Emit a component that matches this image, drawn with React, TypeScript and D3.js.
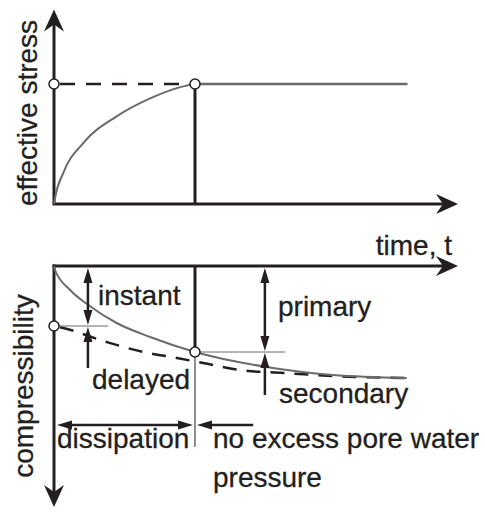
import * as d3 from "d3"

// effective stress rising during dissipation (time, stress)
const stressTime = [0, 0.025, 0.23, 0.73, 1.55, 2.38, 3.2, 3.49]
const stressValue = [0, 0.05, 0.26, 0.51, 0.73, 0.88, 0.98, 1.0]
const stressFinal = 1.0
const endOfDissipation = 3.49
const plotEnd = 8.75

// total compression (solid) and delayed part (dashed)
const totalTime = [0, 0.025, 0.4, 0.85, 1.55, 2.38, 3.49, 5.26, 6.91, 8.73]
const totalComp = [0, 0.04, 0.24, 0.39, 0.57, 0.71, 0.86, 1.01, 1.09, 1.12]
const delayedTime = [0, 0.23, 1.3, 2.21, 3.04, 3.69, 4.6, 5.68, 6.91, 8.73]
const delayedComp = [0.6, 0.62, 0.76, 0.86, 0.92, 0.97, 1.04, 1.07, 1.1, 1.12]
const instantComp = 0.6
const primaryComp = 0.86

const axisLabels = ["effective stress", "compressibility", "time, t"]
const annotations = ["instant", "delayed", "primary", "secondary", "dissipation"]
const noExcess = ["no excess pore water", "pressure"]

const W = 485
const H = 514
const INK = "#231f20"
const GREY = "#6b6b6b"
const FONT = "'Liberation Sans', Arial, sans-serif"

type Pt = [number, number]

// filled narrow arrowhead, tip at (x,y), pointing along (dx,dy)
function head(x: number, y: number, dx: number, dy: number, len = 15, half = 4.5) {
  const px = -dy
  const py = dx
  const bx = x - dx * len
  const by = y - dy * len
  return `M${x},${y}L${bx + px * half},${by + py * half}L${bx - px * half},${by - py * half}Z`
}

// notched axis arrowhead
function axisHead(x: number, y: number, dx: number, dy: number) {
  const px = -dy
  const py = dx
  const len = 22
  const half = 10
  const notch = 15
  return `M${x},${y}L${x - dx * len + px * half},${y - dy * len + py * half}L${x - dx * notch},${y - dy * notch}L${x - dx * len - px * half},${y - dy * len - py * half}Z`
}

export default function App() {
  const x = d3.scaleLinear().domain([0, 10]).range([54, 458])
  const yTop = d3.scaleLinear().domain([0, 1]).range([204, 84])
  const yBot = d3.scaleLinear().domain([0, 1]).range([266, 366])

  const lineTop = d3
    .line<Pt>()
    .x((d) => x(d[0]))
    .y((d) => yTop(d[1]))
    .curve(d3.curveMonotoneX)
  const lineBot = d3
    .line<Pt>()
    .x((d) => x(d[0]))
    .y((d) => yBot(d[1]))
    .curve(d3.curveMonotoneX)

  const stressPts: Pt[] = stressTime.map((t, i) => [t, stressValue[i]])
  const totalPts: Pt[] = totalTime.map((t, i) => [t, totalComp[i]])
  const delayedPts: Pt[] = delayedTime.map((t, i) => [t, delayedComp[i]])

  const x0 = x(0)
  const xd = x(endOfDissipation)
  const xTip = x(10)
  const topTip = yTop(1.62)
  const botTip = yBot(2.41)

  // annotation arrow positions
  const xInst = x(0.84)
  const xPrim = x(5.22)
  const yArrow = yBot(1.59)

  const txt = {
    fontFamily: FONT,
    fontSize: 28,
    fill: INK,
    stroke: INK,
    strokeWidth: 0.3,
  } as const

  return (
    <svg
      width={W}
      height={H}
      style={{ position: "absolute", left: 0, top: 0, background: "#fff" }}
    >
      {/* ---------- top panel ---------- */}
      <line x1={x0} y1={yTop(0)} x2={x0} y2={topTip + 14} stroke={INK} strokeWidth={3} />
      <path d={axisHead(x0, topTip, 0, -1)} fill={INK} />
      <line x1={x0 - 1.5} y1={yTop(0)} x2={xTip - 14} y2={yTop(0)} stroke={INK} strokeWidth={3} />
      <path d={axisHead(xTip, yTop(0), 1, 0)} fill={INK} />

      <line
        x1={x0}
        y1={yTop(stressFinal)}
        x2={xd}
        y2={yTop(stressFinal)}
        stroke={INK}
        strokeWidth={2.5}
        strokeDasharray="15,11"
        strokeDashoffset={-6}
      />
      <path d={lineTop(stressPts) ?? ""} fill="none" stroke={GREY} strokeWidth={2} />
      <line
        x1={xd}
        y1={yTop(stressFinal)}
        x2={x(plotEnd)}
        y2={yTop(stressFinal)}
        stroke={GREY}
        strokeWidth={2.5}
      />
      <line x1={xd} y1={yTop(stressFinal)} x2={xd} y2={yTop(0)} stroke={INK} strokeWidth={3} />
      <circle cx={x0} cy={yTop(stressFinal)} r={5} fill="#fff" stroke={INK} strokeWidth={1.5} />
      <circle cx={xd} cy={yTop(stressFinal)} r={5} fill="#fff" stroke={INK} strokeWidth={1.5} />

      <text {...txt} transform="translate(37,113) rotate(-90)" textAnchor="middle">
        {axisLabels[0]}
      </text>
      <text {...txt} x={452} y={255} textAnchor="end">
        {axisLabels[2]}
      </text>

      {/* ---------- bottom panel ---------- */}
      <line x1={x0} y1={yBot(0) - 1.5} x2={x0} y2={botTip - 14} stroke={INK} strokeWidth={3} />
      <path d={axisHead(x0, botTip, 0, 1)} fill={INK} />
      <line x1={x0 - 1.5} y1={yBot(0)} x2={xTip - 14} y2={yBot(0)} stroke={INK} strokeWidth={3} />
      <path d={axisHead(xTip, yBot(0), 1, 0)} fill={INK} />

      <line x1={xd} y1={yBot(0)} x2={xd} y2={yBot(primaryComp)} stroke={INK} strokeWidth={3} />
      <line x1={xd} y1={yBot(primaryComp)} x2={xd} y2={yBot(1.81)} stroke={INK} strokeWidth={1} />

      <path
        d={lineBot(delayedPts) ?? ""}
        fill="none"
        stroke={INK}
        strokeWidth={2.5}
        strokeDasharray="14,10"
        strokeDashoffset={-6}
      />
      <path d={lineBot(totalPts) ?? ""} fill="none" stroke={GREY} strokeWidth={2} />

      {/* reference ticks */}
      <line x1={x0} y1={yBot(instantComp)} x2={x(1.34)} y2={yBot(instantComp)} stroke={GREY} strokeWidth={1} />
      <line x1={xd} y1={yBot(primaryComp)} x2={x(5.72)} y2={yBot(primaryComp)} stroke={GREY} strokeWidth={1} />

      {/* instant */}
      <line x1={xInst} y1={yBot(0) + 14} x2={xInst} y2={yBot(instantComp) - 14} stroke={INK} strokeWidth={2.5} />
      <path d={head(xInst, yBot(0) + 2, 0, -1)} fill={INK} />
      <path d={head(xInst, yBot(instantComp) - 1, 0, 1)} fill={INK} />
      {/* delayed */}
      <line x1={xInst} y1={yBot(1.02)} x2={xInst} y2={yBot(instantComp) + 14} stroke={INK} strokeWidth={2.5} />
      <path d={head(xInst, yBot(instantComp) + 1, 0, -1)} fill={INK} />
      {/* primary */}
      <line x1={xPrim} y1={yBot(0) + 14} x2={xPrim} y2={yBot(primaryComp) - 14} stroke={INK} strokeWidth={2.5} />
      <path d={head(xPrim, yBot(0) + 2, 0, -1)} fill={INK} />
      <path d={head(xPrim, yBot(primaryComp) - 1, 0, 1)} fill={INK} />
      {/* secondary */}
      <line x1={xPrim} y1={yBot(1.29)} x2={xPrim} y2={yBot(primaryComp) + 14} stroke={INK} strokeWidth={2.5} />
      <path d={head(xPrim, yBot(primaryComp) + 1, 0, -1)} fill={INK} />
      {/* dissipation */}
      <line x1={x0 + 14} y1={yArrow} x2={xd - 16} y2={yArrow} stroke={INK} strokeWidth={2.5} />
      <path d={head(x0 + 3, yArrow, -1, 0)} fill={INK} />
      <path d={head(xd - 2, yArrow, 1, 0)} fill={INK} />
      <line x1={xd + 14} y1={yArrow} x2={x(4.93)} y2={yArrow} stroke={INK} strokeWidth={2.5} />
      <path d={head(xd + 2, yArrow, -1, 0)} fill={INK} />

      <circle cx={x0} cy={yBot(instantComp)} r={5} fill="#fff" stroke={INK} strokeWidth={1.5} />
      <circle cx={xd} cy={yBot(primaryComp)} r={5} fill="#fff" stroke={INK} strokeWidth={1.5} />

      <text {...txt} transform="translate(33,386) rotate(-90)" textAnchor="middle">
        {axisLabels[1]}
      </text>
      <text {...txt} x={98} y={305}>
        {annotations[0]}
      </text>
      <text {...txt} x={92} y={389}>
        {annotations[1]}
      </text>
      <text {...txt} x={278} y={316}>
        {annotations[2]}
      </text>
      <text {...txt} x={279} y={403}>
        {annotations[3]}
      </text>
      <text {...txt} x={57} y={448}>
        {annotations[4]}
      </text>
      <text {...txt} x={213} y={448}>
        {noExcess[0]}
      </text>
      <text {...txt} x={213} y={487}>
        {noExcess[1]}
      </text>
    </svg>
  )
}
